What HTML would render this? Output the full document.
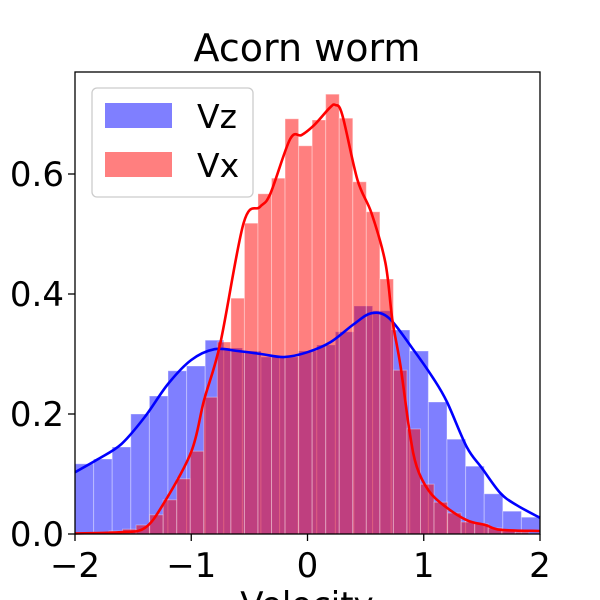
<!DOCTYPE html>
<html><head><meta charset="utf-8"><style>
html,body{margin:0;padding:0;background:#fff;}
svg{display:block;font-family:"DejaVu Sans","Liberation Sans",sans-serif;}
</style></head><body>
<svg id="chart" width="600" height="600" viewBox="0 0 600 600">
<text x="307" y="61" font-size="38" text-anchor="middle">Acorn worm</text>
<g id="bars"></g>
<g id="curves"></g>
<rect x="75" y="72" width="465" height="462" fill="none" stroke="#000" stroke-width="1.3"/>
<g id="ticks"></g>
<text x="307" y="616" font-size="34" text-anchor="middle">Velocity</text>
<g>
<rect x="92" y="88" width="161" height="109" rx="5" fill="#fff" fill-opacity="0.8" stroke="#ccc" stroke-width="1.3"/>
<rect x="105" y="103" width="67" height="25" fill="rgba(0,0,255,0.5)"/>
<text x="197" y="128" font-size="33">Vz</text>
<rect x="105" y="152" width="67" height="25" fill="rgba(255,0,0,0.5)"/>
<text x="197" y="177" font-size="33">Vx</text>
</g>
</svg>
<script>
const vzStart = -2.0, vzWidth = 0.16;
const vzValues = [0.117,0.125,0.145,0.20,0.23,0.272,0.28,0.323,0.31,0.305,0.295,0.295,0.305,0.315,0.337,0.38,0.372,0.34,0.305,0.22,0.158,0.113,0.067,0.038,0.028];
const vxStart = -1.824, vxWidth = 0.1165;
const vxValues = [0.003,0.005,0.008,0.015,0.032,0.057,0.092,0.138,0.228,0.32,0.393,0.518,0.567,0.593,0.692,0.647,0.69,0.733,0.693,0.587,0.537,0.425,0.273,0.175,0.083,0.053,0.035,0.02,0.017,0.01,0.005,0.003];
const vzKdeX = [-2,-1.8,-1.6,-1.4,-1.2,-1.0,-0.8,-0.6,-0.4,-0.2,0,0.2,0.4,0.55,0.7,0.9,1.08,1.2,1.37,1.5,1.66,1.8,2];
const vzKdeY = [0.103,0.125,0.15,0.195,0.25,0.29,0.308,0.305,0.3,0.295,0.303,0.32,0.35,0.368,0.36,0.31,0.26,0.22,0.145,0.11,0.068,0.048,0.027];
const vxKdeX = [-2,-1.6,-1.4,-1.24,-1.0,-0.89,-0.75,-0.55,-0.41,-0.32,-0.15,-0.05,0.06,0.19,0.24,0.30,0.43,0.55,0.67,0.73,0.8,0.88,0.94,1.04,1.17,1.37,1.53,1.66,2];
const vxKdeY = [0.001,0.003,0.01,0.05,0.137,0.223,0.318,0.518,0.545,0.567,0.658,0.665,0.682,0.71,0.715,0.698,0.59,0.535,0.452,0.357,0.28,0.168,0.112,0.073,0.048,0.023,0.015,0.007,0.005];
const xTicks = [-2,-1,0,1,2];
const xTickLabels = ["\u22122","\u22121","0","1","2"];
const yTicks = [0,0.2,0.4,0.6];
const yTickLabels = ["0.0","0.2","0.4","0.6"];

const NS = "http://www.w3.org/2000/svg";
const X = v => 75 + (v + 2) * 116.25;
const Y = v => 534 - v * 600;
const bars = document.getElementById('bars');
const curves = document.getElementById('curves');
const ticks = document.getElementById('ticks');

function drawBars(start, width, vals, fill, nm) {
  vals.forEach((v, i) => {
    const r = document.createElementNS(NS, 'rect');
    const x0 = X(start + i * width), x1 = X(start + (i + 1) * width);
    r.setAttribute('x', x0); r.setAttribute('y', Y(v));
    r.setAttribute('width', x1 - x0); r.setAttribute('height', Y(0) - Y(v));
    r.setAttribute('fill', fill); r.setAttribute('stroke', 'rgba(255,255,255,0.35)'); r.setAttribute('stroke-width', '1');
    
    
    bars.appendChild(r);
  });
}
drawBars(vzStart, vzWidth, vzValues, 'rgba(0,0,255,0.5)', 'vz');
drawBars(vxStart, vxWidth, vxValues, 'rgba(255,0,0,0.5)', 'vx');

function smoothPath(xs, ys) {
  const p = xs.map((x, i) => [X(x), Y(ys[i])]);
  let d = 'M' + p[0][0] + ',' + p[0][1];
  for (let i = 0; i < p.length - 1; i++) {
    const p0 = p[i - 1] || p[i], p1 = p[i], p2 = p[i + 1], p3 = p[i + 2] || p2;
    const c1 = [p1[0] + (p2[0] - p0[0]) / 6, p1[1] + (p2[1] - p0[1]) / 6];
    const c2 = [p2[0] - (p3[0] - p1[0]) / 6, p2[1] - (p3[1] - p1[1]) / 6];
    d += ' C' + c1.join(',') + ' ' + c2.join(',') + ' ' + p2.join(',');
  }
  return d;
}
function drawCurve(xs, ys, color, nm) {
  const path = document.createElementNS(NS, 'path');
  path.setAttribute('d', smoothPath(xs, ys));
  path.setAttribute('fill', 'none'); path.setAttribute('stroke', color); path.setAttribute('stroke-width', '2.6');
  
  
  curves.appendChild(path);
}
drawCurve(vzKdeX, vzKdeY, '#0000ff', 'vz-kde-line');
drawCurve(vxKdeX, vxKdeY, '#ff0000', 'vx-kde-line');

xTicks.forEach((t, i) => {
  const l = document.createElementNS(NS, 'line');
  l.setAttribute('x1', X(t)); l.setAttribute('x2', X(t)); l.setAttribute('y1', 534); l.setAttribute('y2', 541);
  l.setAttribute('stroke', '#000'); l.setAttribute('stroke-width', '1.3');
  
  
  ticks.appendChild(l);
  const tx = document.createElementNS(NS, 'text');
  tx.setAttribute('x', X(t)); tx.setAttribute('y', 577); tx.setAttribute('font-size', '34'); tx.setAttribute('text-anchor', 'middle');
  tx.textContent = xTickLabels[i];
  
  
  ticks.appendChild(tx);
});
yTicks.forEach((t, i) => {
  const l = document.createElementNS(NS, 'line');
  l.setAttribute('x1', 68); l.setAttribute('x2', 75); l.setAttribute('y1', Y(t)); l.setAttribute('y2', Y(t));
  l.setAttribute('stroke', '#000'); l.setAttribute('stroke-width', '1.3');
  
  
  ticks.appendChild(l);
  const tx = document.createElementNS(NS, 'text');
  tx.setAttribute('x', 64); tx.setAttribute('y', Y(t) + 12); tx.setAttribute('font-size', '34'); tx.setAttribute('text-anchor', 'end');
  tx.textContent = yTickLabels[i];
  
  
  ticks.appendChild(tx);
});
</script>
</body></html>
